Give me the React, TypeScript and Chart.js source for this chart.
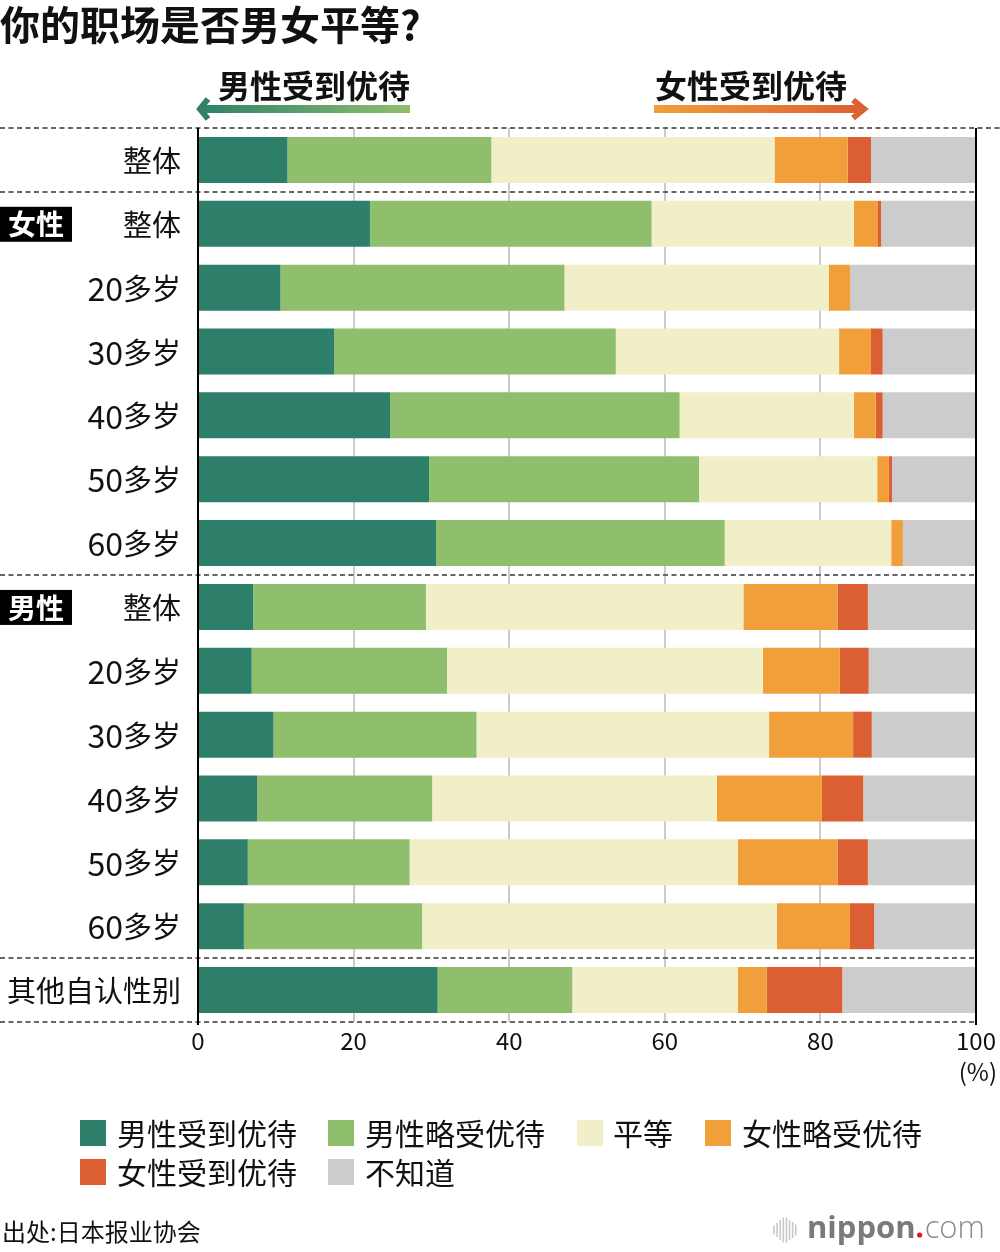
import React, { useEffect, useRef } from "react";
import { Chart, registerables } from "chart.js";

Chart.register(...registerables);

const FONT = '"Noto Sans CJK SC", "Noto Sans", sans-serif';

// Row labels, top to bottom
const categories = [
  "整体",
  "整体", "20多岁", "30多岁", "40多岁", "50多岁", "60多岁",
  "整体", "20多岁", "30多岁", "40多岁", "50多岁", "60多岁",
  "其他自认性别",
];

// Group tags drawn in black boxes next to the first row of each group
const groupTags = [
  { row: 1, text: "女性" },
  { row: 7, text: "男性" },
];

// Dashed separators sit above these row indexes (plus the bottom edge)
const separatorsBefore = [0, 1, 7, 13, 14];

// Answer shares (%)
const menMuch = [11.5, 22.1, 10.6, 17.5, 24.7, 29.7, 30.6, 7.1, 6.9, 9.7, 7.6, 6.4, 5.9, 30.8];
const menSome = [26.2, 36.2, 36.5, 36.2, 37.2, 34.7, 37.1, 22.2, 25.1, 26.1, 22.5, 20.8, 22.9, 17.3];
const equal = [36.4, 26.0, 34.0, 28.7, 22.4, 22.9, 21.4, 40.8, 40.6, 37.6, 36.6, 42.2, 45.6, 21.3];
const womenSome = [9.4, 3.1, 2.7, 4.1, 2.8, 1.5, 1.5, 12.1, 9.9, 10.8, 13.5, 12.8, 9.4, 3.7];
const womenMuch = [3.0, 0.4, 0, 1.5, 0.9, 0.4, 0, 3.9, 3.7, 2.4, 5.3, 3.9, 3.1, 9.7];
const unknown = [13.5, 12.2, 16.2, 12.0, 12.0, 10.8, 9.4, 13.9, 13.8, 13.4, 14.5, 13.9, 13.1, 17.2];

const seriesNames = ["男性受到优待", "男性略受优待", "平等", "女性略受优待", "女性受到优待", "不知道"];
const seriesColors = ["#2e7f6a", "#8fbe6d", "#f1efc7", "#f09f3a", "#db5f33", "#cccccc"];
const seriesValues = [menMuch, menSome, equal, womenSome, womenMuch, unknown];

const xTicks = [0, 20, 40, 60, 80, 100];

const W = 1000;
const H = 1252;

// Draws a label right-aligned, with digits set a little larger than the CJK part
function drawRowLabel(ctx: CanvasRenderingContext2D, text: string, right: number, cy: number) {
  const parts = text.match(/\d+|\D+/g) || [text];
  const fontFor = (p: string) => (/^\d+$/.test(p) ? `32px ${FONT}` : `29px ${FONT}`);
  let total = 0;
  const widths = parts.map((p) => {
    ctx.font = fontFor(p);
    const w = ctx.measureText(p).width;
    total += w;
    return w;
  });
  let x = right - total;
  ctx.textAlign = "left";
  parts.forEach((p, i) => {
    ctx.font = fontFor(p);
    ctx.fillText(p, x, cy);
    x += widths[i];
  });
}

const decorPlugin = {
  id: "decor",
  beforeDraw(chart: any) {
    const { ctx } = chart;
    ctx.save();
    ctx.fillStyle = "#ffffff";
    ctx.fillRect(0, 0, W, H);
    ctx.restore();
  },
  afterDatasetsDraw(chart: any) {
    const { ctx, chartArea } = chart;
    const y = chart.scales.y;
    const x = chart.scales.x;
    const step = y.getPixelForValue(1) - y.getPixelForValue(0);

    ctx.save();

    // dashed separators
    ctx.strokeStyle = "#666666";
    ctx.lineWidth = 2;
    ctx.setLineDash([5, 3.5]);
    separatorsBefore.forEach((r) => {
      const py = Math.round(y.getPixelForValue(r) - step / 2);
      ctx.beginPath();
      ctx.moveTo(0, py);
      ctx.lineTo(r === 0 ? W : chartArea.right, py);
      ctx.stroke();
    });
    ctx.setLineDash([]);

    // black frame lines at 0 and 100
    ctx.strokeStyle = "#000000";
    ctx.lineWidth = 2;
    [0, 100].forEach((v) => {
      const px = Math.round(x.getPixelForValue(v));
      ctx.beginPath();
      ctx.moveTo(px, chartArea.top);
      ctx.lineTo(px, chartArea.bottom + 3);
      ctx.stroke();
    });

    // row labels
    ctx.fillStyle = "#111111";
    ctx.textBaseline = "middle";
    categories.forEach((c, i) => {
      drawRowLabel(ctx, c, chartArea.left - 17, y.getPixelForValue(i) + 1);
    });

    // group tags
    groupTags.forEach((g) => {
      const cy = y.getPixelForValue(g.row);
      ctx.fillStyle = "#000000";
      ctx.fillRect(0, cy - 17, 72, 35);
      ctx.fillStyle = "#ffffff";
      ctx.font = `bold 28px ${FONT}`;
      ctx.textAlign = "center";
      ctx.fillText(g.text, 36, cy + 1);
    });

    // unit
    ctx.fillStyle = "#111111";
    ctx.font = `24px ${FONT}`;
    ctx.textAlign = "right";
    ctx.fillText("(%)", 997, 1072);

    // title
    ctx.textAlign = "left";
    ctx.font = `bold 40px ${FONT}`;
    ctx.fillText("你的职场是否男女平等?", 0, 25);

    // direction labels and arrows
    ctx.font = `bold 32px ${FONT}`;
    ctx.textAlign = "center";
    ctx.fillText("男性受到优待", 314, 86);
    ctx.fillText("女性受到优待", 751, 86);

    const gGreen = ctx.createLinearGradient(197, 0, 410, 0);
    gGreen.addColorStop(0, seriesColors[0]);
    gGreen.addColorStop(1, seriesColors[1]);
    ctx.fillStyle = gGreen;
    ctx.strokeStyle = gGreen;
    ctx.fillRect(201, 105, 209, 8);
    ctx.lineWidth = 6;
    ctx.lineJoin = "miter";
    ctx.beginPath();
    ctx.moveTo(208, 99);
    ctx.lineTo(200, 109);
    ctx.lineTo(208, 119);
    ctx.stroke();

    const gOrange = ctx.createLinearGradient(654, 0, 867, 0);
    gOrange.addColorStop(0, seriesColors[3]);
    gOrange.addColorStop(1, seriesColors[4]);
    ctx.fillStyle = gOrange;
    ctx.strokeStyle = gOrange;
    ctx.fillRect(654, 105, 209, 8);
    ctx.beginPath();
    ctx.moveTo(853, 100);
    ctx.lineTo(864, 109);
    ctx.lineTo(853, 118);
    ctx.stroke();

    // legend
    const legendPos = [
      { sx: 80, tx: 117, cy: 1133 },
      { sx: 328, tx: 365, cy: 1133 },
      { sx: 577, tx: 613, cy: 1133 },
      { sx: 705, tx: 742, cy: 1133 },
      { sx: 80, tx: 117, cy: 1172 },
      { sx: 328, tx: 365, cy: 1172 },
    ];
    ctx.font = `30px ${FONT}`;
    ctx.textAlign = "left";
    seriesNames.forEach((name, i) => {
      const p = legendPos[i];
      ctx.fillStyle = seriesColors[i];
      ctx.fillRect(p.sx, p.cy - 13, 26, 26);
      ctx.fillStyle = "#111111";
      ctx.fillText(name, p.tx, p.cy + 1);
    });

    // source
    ctx.font = `24px ${FONT}`;
    ctx.fillText("出处:日本报业协会", 2, 1232);

    // site mark
    ctx.strokeStyle = "#c8c8c8";
    ctx.lineWidth = 1.6;
    const barH = [9, 14, 20, 25, 25, 20, 16, 11];
    barH.forEach((h, i) => {
      const bx = 774 + i * 3.1;
      ctx.beginPath();
      ctx.moveTo(bx, 1230 - h / 2);
      ctx.lineTo(bx, 1230 + h / 2);
      ctx.stroke();
    });
    ctx.textBaseline = "alphabetic";
    ctx.font = `bold 31px "Open Sans", sans-serif`;
    ctx.fillStyle = "#7a7a7a";
    ctx.fillText("nippon", 807, 1238);
    const nw = ctx.measureText("nippon").width;
    ctx.fillStyle = "#e8141c";
    ctx.beginPath();
    ctx.arc(807 + nw + 4, 1235, 2.6, 0, Math.PI * 2);
    ctx.fill();
    ctx.font = `300 31px "Open Sans", sans-serif`;
    ctx.fillStyle = "#8a8a8a";
    ctx.fillText("com", 807 + nw + 9, 1238);

    ctx.restore();
  },
};

export default function App() {
  const ref = useRef<HTMLCanvasElement>(null);

  useEffect(() => {
    if (!ref.current) return;
    const chart = new Chart(ref.current, {
      type: "bar",
      data: {
        labels: categories,
        datasets: seriesNames.map((name, i) => ({
          label: name,
          data: seriesValues[i],
          backgroundColor: seriesColors[i],
          borderWidth: 0,
          barPercentage: 0.72,
          categoryPercentage: 1,
        })),
      },
      options: {
        indexAxis: "y",
        responsive: false,
        animation: false,
        devicePixelRatio: 1,
        layout: { padding: { left: 198, right: 21, top: 128, bottom: 0 } },
        plugins: {
          legend: { display: false },
          tooltip: { enabled: false },
          title: { display: false },
        },
        scales: {
          x: {
            stacked: true,
            min: 0,
            max: 100,
            afterBuildTicks: (scale: any) => {
              scale.ticks = xTicks.map((v) => ({ value: v }));
            },
            afterFit: (scale: any) => {
              scale.height = H - 1022;
            },
            border: { display: false },
            grid: {
              drawTicks: false,
              lineWidth: 2,
              color: (c: any) =>
                c.tick && (c.tick.value === 0 || c.tick.value === 100) ? "rgba(0,0,0,0)" : "#cccccc",
            },
            ticks: {
              padding: 4,
              color: "#111111",
              font: { family: FONT, size: 24 },
              maxRotation: 0,
            },
          },
          y: {
            stacked: true,
            display: false,
          },
        },
      },
      plugins: [decorPlugin],
    } as any);
    return () => chart.destroy();
  }, []);

  return (
    <div style={{ position: "absolute", left: 0, top: 0, width: W, height: H, background: "#fff" }}>
      <canvas ref={ref} width={W} height={H} style={{ display: "block", width: W, height: H }} />
    </div>
  );
}
